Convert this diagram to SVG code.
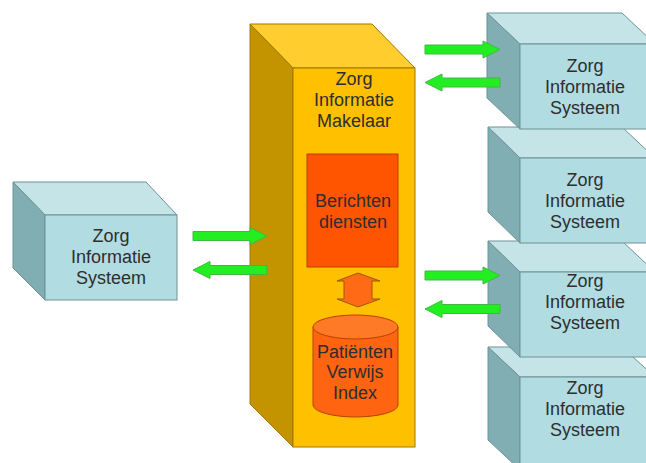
<svg xmlns="http://www.w3.org/2000/svg" width="646" height="463" viewBox="0 0 646 463">
<style>
text{font-family:"Liberation Sans",Arial,sans-serif;font-size:18px;fill:#2e2e2e;text-anchor:middle}
.tf{fill:#c4e4e8;stroke:#6f9296;stroke-width:1}
.ff{fill:#b1dce1;stroke:#6f9296;stroke-width:1}
.sf{fill:#80aeb3;stroke:#6f9296;stroke-width:1}
.yt{fill:#ffcd2e;stroke:#a07800;stroke-width:1}
.yf{fill:#ffc000;stroke:#a07800;stroke-width:1}
.ys{fill:#c49400;stroke:#a07800;stroke-width:1}
.ga{fill:#22ee22;stroke:#3fb83f;stroke-width:1}
.oa{fill:#ff6a14;stroke:#9a5a00;stroke-width:1}
</style>
<rect width="646" height="463" fill="#ffffff"/>

<g id="zis-left">
<polygon class="tf" points="13,182 146,182 177,215 45,215"/>
<polygon class="sf" points="13,182 45,215 45,300 13,268"/>
<rect class="ff" x="45" y="215" width="132" height="85"/>
<text x="111" y="242">Zorg</text>
<text x="111" y="263">Informatie</text>
<text x="111" y="284">Systeem</text>
</g>

<g id="zim">
<polygon class="yt" points="250,24 372,24 415,68 293,68"/>
<polygon class="ys" points="250,24 293,68 293,447 250,404"/>
<rect class="yf" x="293" y="68" width="122" height="379"/>
<text x="354" y="85">Zorg</text>
<text x="354" y="106">Informatie</text>
<text x="354" y="127">Makelaar</text>
</g>

<g id="berichtendiensten">
<rect x="307" y="154" width="91" height="113" fill="#ff5500" stroke="#b84000" stroke-width="1"/>
<text x="353" y="207">Berichten</text>
<text x="353" y="228">diensten</text>
</g>

<g id="pvi">
<path d="M313,327 V405 A42.5,12 0 0 0 398,405 V327 Z" fill="#ff6410" stroke="#b84000" stroke-width="1"/>
<ellipse cx="355.5" cy="327" rx="42.5" ry="12" fill="#ff7a26" stroke="#b84000" stroke-width="1"/>
<text x="355" y="358">Patiënten</text>
<text x="355" y="378">Verwijs</text>
<text x="355" y="399">Index</text>
</g>

<g id="zis-r4">
<polygon class="tf" points="488,347 622,347 655,377 520,377"/>
<polygon class="sf" points="488,347 520,377 520,470 488,440"/>
<rect class="ff" x="520" y="377" width="135" height="95"/>
<text x="585" y="394">Zorg</text>
<text x="585" y="415">Informatie</text>
<text x="585" y="436">Systeem</text>
</g>

<g id="zis-r3">
<polygon class="tf" points="488,241 622,241 655,272 520,272"/>
<polygon class="sf" points="488,241 520,272 520,357 488,326"/>
<rect class="ff" x="520" y="272" width="135" height="85"/>
<text x="585" y="287">Zorg</text>
<text x="585" y="308">Informatie</text>
<text x="585" y="329">Systeem</text>
</g>

<g id="zis-r2">
<polygon class="tf" points="488,127 622,127 655,158 520,158"/>
<polygon class="sf" points="488,127 520,158 520,243 488,212"/>
<rect class="ff" x="520" y="158" width="135" height="85"/>
<text x="585" y="186">Zorg</text>
<text x="585" y="207">Informatie</text>
<text x="585" y="228">Systeem</text>
</g>

<g id="zis-r1">
<polygon class="tf" points="487,13 622,13 655,44 520,44"/>
<polygon class="sf" points="487,13 520,44 520,129 487,98"/>
<rect class="ff" x="520" y="44" width="135" height="85"/>
<text x="585" y="72">Zorg</text>
<text x="585" y="93">Informatie</text>
<text x="585" y="114">Systeem</text>
</g>

<g id="connectors">
<path class="ga" d="M193,231.5 H250 V227.5 L267,236 L250,244.5 V240.5 H193 Z"/>
<path class="ga" d="M267,265.5 H210 V261.5 L193,270 L210,278.5 V274.5 H267 Z"/>
<path class="ga" d="M425,45 H483 V41 L500,49.5 L483,58 V54 H425 Z"/>
<path class="ga" d="M500,78 H442 V74 L425,82.5 L442,91 V87 H500 Z"/>
<path class="ga" d="M425,271 H483 V267 L500,275.5 L483,284 V280 H425 Z"/>
<path class="ga" d="M500,304.5 H442 V300.5 L425,309 L442,317.5 V313.5 H500 Z"/>
<path class="oa" d="M358,273 L380,281 H372 V299 H380 L358,307 L337,299 H344 V281 H337 Z"/>
</g>
</svg>
